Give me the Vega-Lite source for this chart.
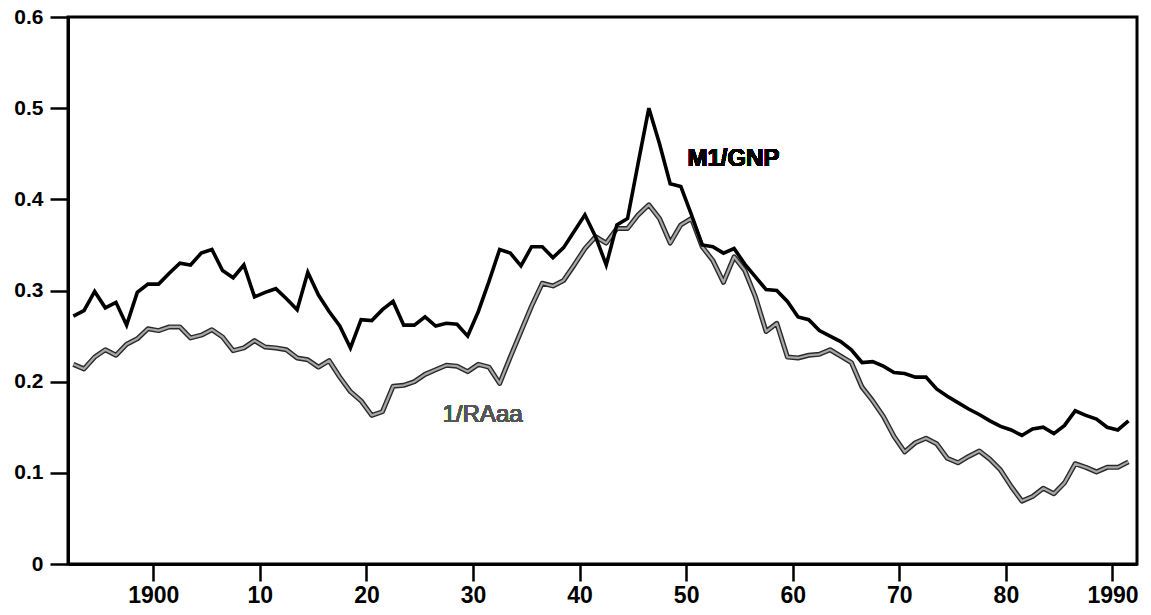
{
  "$schema": "https://vega.github.io/schema/vega-lite/v6.json",
  "autosize": "none",
  "width": 1069,
  "height": 547,
  "padding": {"left": 68, "top": 17, "right": 14, "bottom": 51},
  "background": "white",
  "config": {
    "view": {"stroke": "black", "strokeWidth": 3},
    "font": "Liberation Sans",
    "axis": {"ticks": true, "tickOpacity": 1, "tickColor": "black", "domain": true}
  },
  "data": {
    "values": [
      {"year":1892.5,"m1":0.272,"raaa":0.219},
      {"year":1893.5,"m1":0.278,"raaa":0.214},
      {"year":1894.5,"m1":0.299,"raaa":0.227},
      {"year":1895.5,"m1":0.281,"raaa":0.235},
      {"year":1896.5,"m1":0.287,"raaa":0.229},
      {"year":1897.5,"m1":0.262,"raaa":0.241},
      {"year":1898.5,"m1":0.298,"raaa":0.247},
      {"year":1899.5,"m1":0.307,"raaa":0.258},
      {"year":1900.5,"m1":0.307,"raaa":0.256},
      {"year":1901.5,"m1":0.319,"raaa":0.260},
      {"year":1902.5,"m1":0.330,"raaa":0.260},
      {"year":1903.5,"m1":0.328,"raaa":0.248},
      {"year":1904.5,"m1":0.341,"raaa":0.251},
      {"year":1905.5,"m1":0.345,"raaa":0.257},
      {"year":1906.5,"m1":0.322,"raaa":0.249},
      {"year":1907.5,"m1":0.314,"raaa":0.234},
      {"year":1908.5,"m1":0.328,"raaa":0.237},
      {"year":1909.5,"m1":0.293,"raaa":0.245},
      {"year":1910.5,"m1":0.298,"raaa":0.238},
      {"year":1911.5,"m1":0.302,"raaa":0.237},
      {"year":1912.5,"m1":0.291,"raaa":0.235},
      {"year":1913.5,"m1":0.279,"raaa":0.226},
      {"year":1914.5,"m1":0.320,"raaa":0.224},
      {"year":1915.5,"m1":0.295,"raaa":0.216},
      {"year":1916.5,"m1":0.277,"raaa":0.223},
      {"year":1917.5,"m1":0.261,"raaa":0.205},
      {"year":1918.5,"m1":0.237,"raaa":0.189},
      {"year":1919.5,"m1":0.268,"raaa":0.179},
      {"year":1920.5,"m1":0.267,"raaa":0.163},
      {"year":1921.5,"m1":0.279,"raaa":0.167},
      {"year":1922.5,"m1":0.288,"raaa":0.195},
      {"year":1923.5,"m1":0.262,"raaa":0.196},
      {"year":1924.5,"m1":0.262,"raaa":0.200},
      {"year":1925.5,"m1":0.271,"raaa":0.208},
      {"year":1926.5,"m1":0.261,"raaa":0.213},
      {"year":1927.5,"m1":0.264,"raaa":0.218},
      {"year":1928.5,"m1":0.263,"raaa":0.217},
      {"year":1929.5,"m1":0.250,"raaa":0.211},
      {"year":1930.5,"m1":0.277,"raaa":0.219},
      {"year":1931.5,"m1":0.310,"raaa":0.216},
      {"year":1932.5,"m1":0.345,"raaa":0.198},
      {"year":1933.5,"m1":0.341,"raaa":0.227},
      {"year":1934.5,"m1":0.327,"raaa":0.255},
      {"year":1935.5,"m1":0.348,"raaa":0.283},
      {"year":1936.5,"m1":0.348,"raaa":0.308},
      {"year":1937.5,"m1":0.336,"raaa":0.305},
      {"year":1938.5,"m1":0.347,"raaa":0.311},
      {"year":1939.5,"m1":0.365,"raaa":0.328},
      {"year":1940.5,"m1":0.383,"raaa":0.346},
      {"year":1941.5,"m1":0.359,"raaa":0.359},
      {"year":1942.5,"m1":0.328,"raaa":0.352},
      {"year":1943.5,"m1":0.372,"raaa":0.368},
      {"year":1944.5,"m1":0.379,"raaa":0.368},
      {"year":1945.5,"m1":0.440,"raaa":0.383},
      {"year":1946.5,"m1":0.500,"raaa":0.394},
      {"year":1947.5,"m1":0.461,"raaa":0.379},
      {"year":1948.5,"m1":0.417,"raaa":0.352},
      {"year":1949.5,"m1":0.414,"raaa":0.372},
      {"year":1950.5,"m1":0.383,"raaa":0.379},
      {"year":1951.5,"m1":0.350,"raaa":0.348},
      {"year":1952.5,"m1":0.348,"raaa":0.333},
      {"year":1953.5,"m1":0.341,"raaa":0.309},
      {"year":1954.5,"m1":0.346,"raaa":0.337},
      {"year":1955.5,"m1":0.329,"raaa":0.322},
      {"year":1956.5,"m1":0.315,"raaa":0.293},
      {"year":1957.5,"m1":0.301,"raaa":0.255},
      {"year":1958.5,"m1":0.300,"raaa":0.264},
      {"year":1959.5,"m1":0.288,"raaa":0.227},
      {"year":1960.5,"m1":0.271,"raaa":0.226},
      {"year":1961.5,"m1":0.268,"raaa":0.229},
      {"year":1962.5,"m1":0.256,"raaa":0.230},
      {"year":1963.5,"m1":0.250,"raaa":0.235},
      {"year":1964.5,"m1":0.244,"raaa":0.228},
      {"year":1965.5,"m1":0.235,"raaa":0.221},
      {"year":1966.5,"m1":0.221,"raaa":0.194},
      {"year":1967.5,"m1":0.222,"raaa":0.179},
      {"year":1968.5,"m1":0.217,"raaa":0.162},
      {"year":1969.5,"m1":0.210,"raaa":0.140},
      {"year":1970.5,"m1":0.209,"raaa":0.123},
      {"year":1971.5,"m1":0.205,"raaa":0.133},
      {"year":1972.5,"m1":0.205,"raaa":0.138},
      {"year":1973.5,"m1":0.192,"raaa":0.132},
      {"year":1974.5,"m1":0.184,"raaa":0.116},
      {"year":1975.5,"m1":0.177,"raaa":0.111},
      {"year":1976.5,"m1":0.170,"raaa":0.118},
      {"year":1977.5,"m1":0.164,"raaa":0.124},
      {"year":1978.5,"m1":0.157,"raaa":0.115},
      {"year":1979.5,"m1":0.151,"raaa":0.103},
      {"year":1980.5,"m1":0.147,"raaa":0.085},
      {"year":1981.5,"m1":0.141,"raaa":0.069},
      {"year":1982.5,"m1":0.148,"raaa":0.074},
      {"year":1983.5,"m1":0.150,"raaa":0.083},
      {"year":1984.5,"m1":0.143,"raaa":0.077},
      {"year":1985.5,"m1":0.152,"raaa":0.089},
      {"year":1986.5,"m1":0.168,"raaa":0.110},
      {"year":1987.5,"m1":0.163,"raaa":0.106},
      {"year":1988.5,"m1":0.159,"raaa":0.101},
      {"year":1989.5,"m1":0.150,"raaa":0.106},
      {"year":1990.5,"m1":0.147,"raaa":0.106},
      {"year":1991.5,"m1":0.157,"raaa":0.112}
    ]
  },
  "encoding": {
    "x": {
      "field": "year",
      "type": "quantitative",
      "scale": {"domain": [1892, 1992.3], "nice": false, "zero": false},
      "axis": {
        "title": null,
        "grid": false,
        "ticks": true,
        "values": [1900, 1910, 1920, 1930, 1940, 1950, 1960, 1970, 1980, 1990],
        "format": "d",
        "labelExpr": "(datum.value == 1900 || datum.value == 1990) ? datum.label : substring(datum.label, 2)",
        "labelFont": "Liberation Sans",
        "labelFontWeight": "bold",
        "labelFontSize": 23,
        "labelColor": "black",
        "labelPadding": 3,
        "tickSize": 17,
        "tickWidth": 2.5,
        "tickColor": "black",
        "tickOpacity": 1,
        "domainColor": "black",
        "domainWidth": 3,
        "labelFlush": false,
        "labelOverlap": false
      }
    },
    "y": {
      "type": "quantitative",
      "scale": {"domain": [0, 0.6], "nice": false},
      "axis": {
        "title": null,
        "grid": false,
        "ticks": true,
        "values": [0, 0.1, 0.2, 0.3, 0.4, 0.5, 0.6],
        "labelExpr": "datum.value == 0 ? '0' : format(datum.value, '.1f')",
        "labelFont": "Liberation Sans",
        "labelFontWeight": "bold",
        "labelFontSize": 21,
        "labelColor": "black",
        "labelPadding": 7,
        "tickSize": 18,
        "tickWidth": 2.5,
        "tickColor": "black",
        "tickOpacity": 1,
        "domainColor": "black",
        "domainWidth": 3,
        "labelFlush": false,
        "labelOverlap": false
      }
    }
  },
  "layer": [
    {
      "mark": {"type": "line", "stroke": "#2a2a2a", "strokeWidth": 5, "strokeJoin": "round"},
      "encoding": {"y": {"field": "raaa", "type": "quantitative"}}
    },
    {
      "mark": {"type": "line", "stroke": "#a8a8a8", "strokeWidth": 2.2, "strokeJoin": "round"},
      "encoding": {"y": {"field": "raaa", "type": "quantitative"}}
    },
    {
      "mark": {"type": "line", "stroke": "black", "strokeWidth": 3.6, "strokeJoin": "miter"},
      "encoding": {"y": {"field": "m1", "type": "quantitative"}}
    },
    {
      "mark": {"type": "text", "text": "M1/GNP", "align": "left", "baseline": "middle", "font": "Liberation Sans", "fontWeight": "bold", "fontSize": 24, "fill": "black"},
      "encoding": {"x": {"datum": 1950.12}, "y": {"datum": 0.444}}
    },
    {
      "mark": {"type": "text", "text": "1/RAaa", "align": "left", "baseline": "middle", "font": "Liberation Sans", "fontWeight": "normal", "fontSize": 24, "fill": "#555555"},
      "encoding": {"x": {"datum": 1927.14}, "y": {"datum": 0.163}}
    }
  ]
}
